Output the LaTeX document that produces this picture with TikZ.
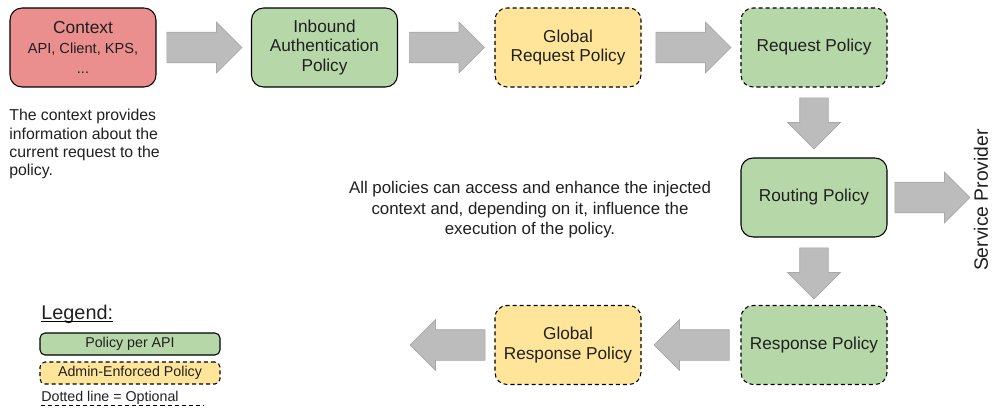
\documentclass[tikz,border=0pt]{standalone}
\usepackage{fontspec}
\setmainfont{Liberation Sans}
\usetikzlibrary{shapes.arrows,positioning,calc}

\definecolor{ctxred}{HTML}{EA8E8E}
\definecolor{apigreen}{HTML}{B6D7A8}
\definecolor{adminyellow}{HTML}{FFE599}
\definecolor{flowgray}{HTML}{BCBCBC}
\definecolor{flowedge}{HTML}{A8A8A8}
\definecolor{ink}{HTML}{202020}

\begin{document}
\begin{tikzpicture}[x=0.02cm,y=-0.02cm,text=ink,font=\fontsize{9.8}{11.3}\selectfont]
\tikzstyle{policy}=[draw=black, line width=0.6pt, rounded corners=0.24cm, minimum width=2.92cm, minimum height=1.58cm, align=center, inner sep=2pt]
\tikzstyle{perapi}=[policy, fill=apigreen]
\tikzstyle{admin}=[policy, fill=adminyellow]
\tikzstyle{optional}=[dash pattern=on 2.3pt off 1.7pt]
\tikzstyle{flow}=[single arrow, draw=flowedge, fill=flowgray, line width=0.4pt, inner xsep=0pt, inner ysep=0.3cm, single arrow head extend=0.2cm, minimum height=1.5cm, anchor=tail]
\tikzstyle{flowdown}=[flow, shape border rotate=270, inner xsep=0.28cm, inner ysep=0pt, single arrow head extend=0.24cm, minimum height=1.02cm]
\tikzstyle{flowback}=[flow, shape border rotate=180]
\tikzstyle{key}=[draw=black, line width=0.6pt, rounded corners=0.1cm, minimum width=3.6cm, minimum height=0.44cm, inner sep=1pt, font=\fontsize{8.1}{9.6}\selectfont]

\useasboundingbox (0,0) rectangle (1000,412);

% request chain
\node[policy, fill=ctxred, font=\fontsize{8.3}{11.3}\selectfont] (ctx) at (83,47.5) {{\fontsize{9.9}{11.3}\selectfont Context}\\API, Client, KPS,\\...};
\node[perapi] (inb) at (324.5,47.5) {Inbound\\Authentication\\Policy};
\node[admin, optional] (greq) at (568,47.5) {Global\\Request Policy};
\node[perapi, optional] (req) at (814,47.5) {Request Policy};
\node[perapi] (rout) at (814,197.5) {Routing Policy};
\node[perapi, optional] (resp) at (814,345) {Response Policy};
\node[admin, optional] (gresp) at (568,345) {Global\\Response Policy};

% block arrows
\node[flow] (a1) at ([xshift=0.2cm]ctx.east) {};
\node[flow] (a2) at ([xshift=0.22cm]inb.east) {};
\node[flow] (a3) at ([xshift=0.28cm]greq.east) {};
\node[flowdown] (d1) at ([yshift=-0.2cm]req.south) {};
\node[flow] (a4) at ([xshift=0.14cm]rout.east) {};
\node[flowdown] (d2) at ([yshift=-0.2cm]rout.south) {};
\node[flowback] (b1) at ([xshift=-0.22cm]resp.west) {};
\node[flowback] (b2) at ([xshift=-0.18cm]gresp.west) {};

\node[rotate=90, font=\fontsize{11}{13}\selectfont] (sp) at (981,200) {Service Provider};

% notes
\node[anchor=north west, align=left, inner sep=0pt, font=\fontsize{9}{10.4}\selectfont] (ctxnote) at (9,109) {The context provides\\information about the\\current request to the\\policy.};
\node[align=center, inner sep=0pt, font=\fontsize{9.6}{11.6}\selectfont] (note) at (530,210) {All policies can access and enhance the injected\\context and, depending on it, influence the\\execution of the policy.};

% legend
\node[anchor=base west, inner sep=0pt, font=\fontsize{11.3}{13}\selectfont] (legend) at (41,319) {Legend:};
\draw[line width=0.6pt] ([yshift=-1.6pt]legend.base west) -- ([yshift=-1.6pt]legend.base east);
\node[key, fill=apigreen] (keyapi) at (130,344) {Policy per API};
\node[key, fill=adminyellow, optional] (keyadmin) at (130,373) {Admin-Enforced Policy};
\node[anchor=base west, inner sep=0pt, font=\fontsize{8.1}{9.6}\selectfont] (keydash) at (41,401) {Dotted line = Optional};
\draw[optional, line width=0.6pt] ([yshift=-2.6pt]keydash.base west) -- ([xshift=0.5cm,yshift=-2.6pt]keydash.base east);
\end{tikzpicture}
\end{document}
